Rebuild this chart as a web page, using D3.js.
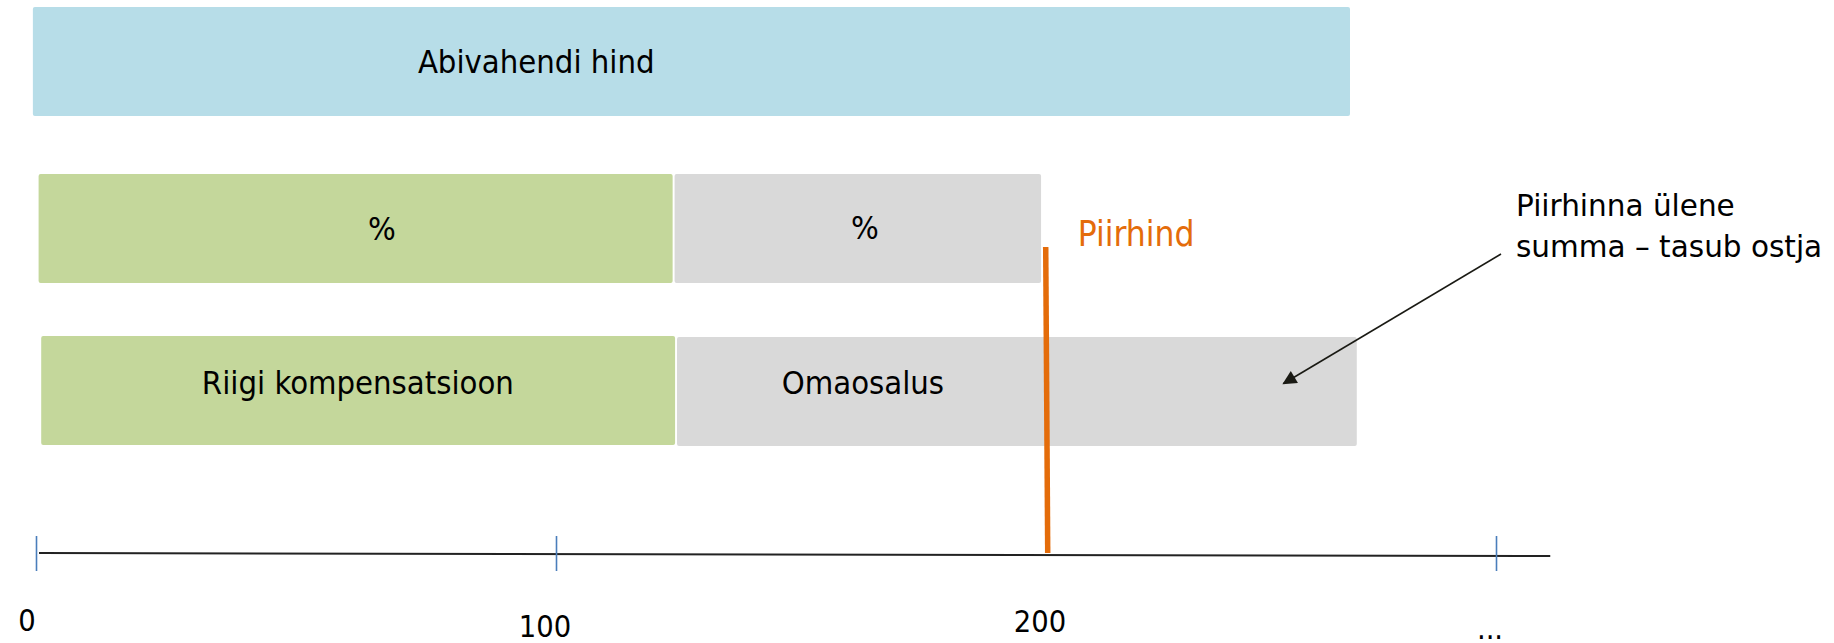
<!DOCTYPE html>
<html>
<head>
<meta charset="utf-8">
<script src="https://cdn.jsdelivr.net/npm/d3@7"></script>
<style>
  html, body { margin: 0; padding: 0; background: #ffffff; }
  svg { display: block; }
</style>
</head>
<body>
<svg id="chart" width="1834" height="643"></svg>
<script>
// ---------------- data ----------------
const rowKeys = ["hind", "osakaal", "summa"];

const segRows   = ["hind", "osakaal", "osakaal", "summa", "summa"];
const segStarts = [-0.6, 0.5, 124.3, 1.0, 124.8];
const segEnds   = [267.7, 123.9, 199.4, 124.4, 269.2];
const segKinds  = ["price", "state", "own", "state", "own"];
const segLabels = ["Abivahendi hind", "%", "%", "Riigi kompensatsioon", "Omaosalus"];
const labelAnchors = [96.2, 66.5, 163.3, 61.9, 162.9];   // label centre, in axis units

const limitValue = 200.6;
const limitLabel = "Piirhind";

const tickValues = [0, 100, 300];
const tickLabelValues = [0, 100, 200, 300];
const tickLabels = ["0", "100", "200", "..."];
const axisEnd = 312;

const noteLines = ["Piirhinna ülene", "summa – tasub ostja"];
const noteTarget = 253;     // axis value the arrow points at (row "summa")

// ---------------- layout / style ----------------
const colors = { price: "#B7DDE8", state: "#C4D79B", own: "#D9D9D9" };
const orange = "#E46C0A";
const tickBlue = "#4A7EBB";
const condensed = "'DejaVu Sans Condensed', 'DejaVu Sans', sans-serif";
const regular = "'DejaVu Sans', Verdana, sans-serif";
const labelDy = [11, 11, 10, 3, 3];
const tickLabelNudge = [[-9, 631], [-11, 637], [-4, 632], [-6, 639]];
const barHeight = 109;

const svg = d3.select("#chart");

const x = d3.scaleLinear()
  .domain([0, 100, 200, 300])
  .range([36, 556, 1044, 1496]);

const y = d3.scaleOrdinal()
  .domain(rowKeys)
  .range([7, 174, 336]);

// ---------------- bars ----------------
const segs = segRows.map((r, i) => ({
  row: r, start: segStarts[i], end: segEnds[i], kind: segKinds[i],
  label: segLabels[i], anchor: labelAnchors[i], dy: labelDy[i]
}));

svg.append("g").selectAll("rect")
  .data(segs)
  .join("rect")
  .attr("x", d => x(d.start))
  .attr("y", d => y(d.row) + (d.row === "summa" && d.kind === "own" ? 1 : 0))
  .attr("width", d => x(d.end) - x(d.start))
  .attr("height", barHeight)
  .attr("rx", 2).attr("ry", 2)
  .attr("fill", d => colors[d.kind]);

svg.append("g").selectAll("text")
  .data(segs)
  .join("text")
  .attr("x", d => x(d.anchor))
  .attr("y", d => y(d.row) + barHeight / 2 + d.dy)
  .attr("text-anchor", "middle")
  .attr("font-family", condensed)
  .attr("font-size", 32.5)
  .attr("fill", "#000")
  .text(d => d.label);

// ---------------- axis ----------------
const axisY = 554;
svg.append("line")
  .attr("x1", x(0) + 3).attr("y1", axisY - 1)
  .attr("x2", x(axisEnd)).attr("y2", axisY + 2)
  .attr("stroke", "#222").attr("stroke-width", 2);

const axis = d3.axisBottom(x).tickValues(tickValues).tickFormat("").tickSizeOuter(0);
const gAxis = svg.append("g").attr("transform", `translate(0,${axisY})`).call(axis);
gAxis.select(".domain").remove();
gAxis.selectAll(".tick line")
  .attr("y1", -18).attr("y2", 17)
  .attr("stroke", tickBlue).attr("stroke-width", 1.6);

svg.append("g").selectAll("text")
  .data(tickLabelValues)
  .join("text")
  .attr("x", (d, i) => x(d) + tickLabelNudge[i][0])
  .attr("y", (d, i) => tickLabelNudge[i][1])
  .attr("text-anchor", "middle")
  .attr("font-family", condensed)
  .attr("font-size", 30.5)
  .attr("fill", "#000")
  .text((d, i) => tickLabels[i]);

// ---------------- limit line ----------------
svg.append("line")
  .attr("x1", x(limitValue) - 1).attr("y1", 247)
  .attr("x2", x(limitValue) + 1).attr("y2", axisY - 1)
  .attr("stroke", orange).attr("stroke-width", 5.5);

svg.append("text")
  .attr("x", x(limitValue) + 31)
  .attr("y", 246)
  .attr("font-family", condensed)
  .attr("font-size", 35)
  .attr("fill", orange)
  .text(limitLabel);

// ---------------- annotation ----------------
const defs = svg.append("defs");
defs.append("marker")
  .attr("id", "arrowhead")
  .attr("viewBox", "0 0 10 10")
  .attr("refX", 9).attr("refY", 5)
  .attr("markerWidth", 18).attr("markerHeight", 14)
  .attr("markerUnits", "userSpaceOnUse")
  .attr("orient", "auto")
  .append("path")
  .attr("d", "M0,0 L10,5 L0,10 Z")
  .attr("fill", "#1a1a14");

const noteX = 1516, noteY = 216;
svg.append("g").selectAll("text")
  .data(noteLines)
  .join("text")
  .attr("x", noteX)
  .attr("y", (d, i) => noteY + i * 41)
  .attr("font-family", regular)
  .attr("font-size", 29.5)
  .attr("fill", "#000")
  .text(d => d);

svg.append("line")
  .attr("x1", 1501).attr("y1", 254)
  .attr("x2", x(noteTarget)).attr("y2", y("summa") + barHeight / 2 - 7)
  .attr("stroke", "#1a1a14").attr("stroke-width", 1.6)
  .attr("marker-end", "url(#arrowhead)");
</script>
</body>
</html>
